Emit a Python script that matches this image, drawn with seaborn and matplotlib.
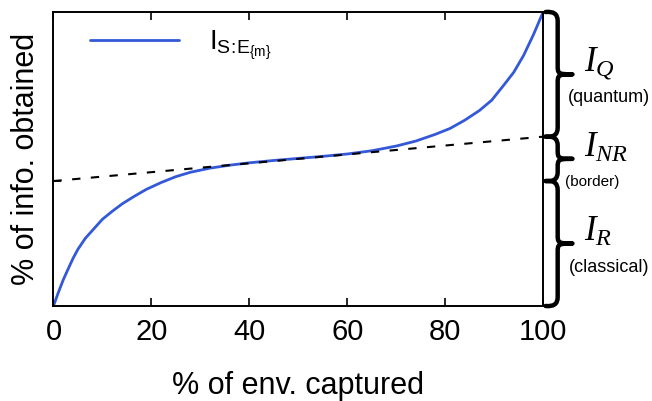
"""
Curva de información obtenida vs. fracción del entorno capturado
"""

import numpy as np
import pandas as pd
import matplotlib.pyplot as plt
import seaborn as sns
from matplotlib.path import Path
from matplotlib.patches import PathPatch
import matplotlib.transforms as mtransforms


# Datos
env_captured = [0, 1, 2, 3, 4, 5, 6.5, 8, 10, 12, 14, 16.5, 19, 22, 25, 28,
                32, 36, 40, 45, 50, 55, 60, 65, 70, 74, 78, 81, 84, 87,
                89.5, 92, 94, 96, 98, 100]
info_obtained = [0, 4.6, 8.9, 12.6, 16.2, 19.3, 23.0, 25.8, 29.5, 32.2,
                 34.7, 37.3, 39.7, 42.0, 44.0, 45.5, 46.9, 47.9, 48.7,
                 49.5, 50.2, 50.9, 51.7, 52.8, 54.4, 56.1, 58.4, 60.4,
                 63.2, 66.5, 70.0, 75.2, 79.5, 85.2, 92.2, 100]

# Recta de referencia (discontinua)
ref_x = [0, 100]
ref_y = [42.5, 57.6]

# Regiones marcadas a la derecha: (inferior, superior, nombre, descripción)
region_lo = [ref_y[1], ref_y[0], 0]
region_hi = [100, ref_y[1], ref_y[0]]
region_names = [r'$I_Q$', r'$I_{NR}$', r'$I_R$']
region_desc = ['(quantum)', '(border)', '(classical)']

sns.set_style('white')
plt.rcParams['font.family'] = ['Liberation Sans', 'DejaVu Sans']
plt.rcParams['mathtext.fontset'] = 'custom'
plt.rcParams['mathtext.rm'] = 'Liberation Sans'
plt.rcParams['mathtext.it'] = 'Liberation Serif:italic'
plt.rcParams['mathtext.cal'] = 'Liberation Serif:italic'
plt.rcParams['text.color'] = 'black'
plt.rcParams['axes.labelcolor'] = 'black'

df = pd.DataFrame({'env': env_captured, 'info': info_obtained})

fig = plt.figure(figsize=(6.52, 4.01), dpi=100)
ax = fig.add_axes([0.082, 0.237, 0.751, 0.733])

sns.lineplot(data=df, x='env', y='info', ax=ax, color='#3358d8', lw=2,
             label=r'$\mathrm{I_{S\!:\!E_{\{m\}}}}$')
sns.lineplot(x=ref_x, y=ref_y, ax=ax, color='black', lw=1.5,
             dashes=False, linestyle=(0, (4, 5)))

ax.set_xlim(0, 100)
ax.set_ylim(0, 100)
ax.set_xticks([0, 20, 40, 60, 80, 100])
ax.set_yticks([ref_y[0]])
ax.set_yticklabels([])
ax.tick_params(axis='both', direction='in', length=6, width=1.2,
               labelsize=21, pad=9, top=True, bottom=True, left=True,
               colors='black')
for s in ax.spines.values():
    s.set_color('black')
    s.set_linewidth(1.4)

ax.set_xlabel('% of env. captured', fontsize=22, labelpad=18)
ax.set_ylabel('% of info. obtained', fontsize=22, labelpad=0)

leg = ax.legend(loc='upper left', bbox_to_anchor=(0.023, 1.03), frameon=False,
                fontsize=20, handlelength=3.2, handletextpad=1.1)

# Llaves a la derecha del eje
trans = mtransforms.blended_transform_factory(ax.transAxes, ax.transData)


def draw_brace(y0, y1, x0=1.005, w=0.055, d=3.0):
    ym = (y0 + y1) / 2
    xb = x0 + w * 0.45
    verts = [
        (x0, y1), (xb, y1 + 0.5), (xb, y1 - d),
        (xb, ym + d),
        (xb, ym + 0.3), (xb, ym), (x0 + w, ym),
        (xb, ym), (xb, ym - 0.3), (xb, ym - d),
        (xb, y0 + d),
        (xb, y0 - 0.5), (x0, y0),
    ]
    codes = [Path.MOVETO, Path.CURVE3, Path.CURVE3,
             Path.LINETO,
             Path.CURVE4, Path.CURVE4, Path.CURVE4,
             Path.CURVE4, Path.CURVE4, Path.CURVE4,
             Path.LINETO,
             Path.CURVE3, Path.CURVE3]
    patch = PathPatch(Path(verts, codes), transform=trans, fill=False,
                      lw=3.2, color='black', clip_on=False,
                      capstyle='round', joinstyle='round')
    ax.add_patch(patch)


desc_x = [1.135, 1.10, 1.135]
desc_size = [13, 11, 13]
for i in range(3):
    lo, hi = region_lo[i], region_hi[i]
    draw_brace(lo, hi)
    mid = (lo + hi) / 2
    ax.text(1.083, mid + 4, region_names[i], transform=trans, fontsize=25,
            ha='left', va='center')
    ax.text(desc_x[i], mid - 8, region_desc[i], transform=trans,
            fontsize=desc_size[i], ha='center', va='center')

plt.savefig('out.png', dpi=100)
